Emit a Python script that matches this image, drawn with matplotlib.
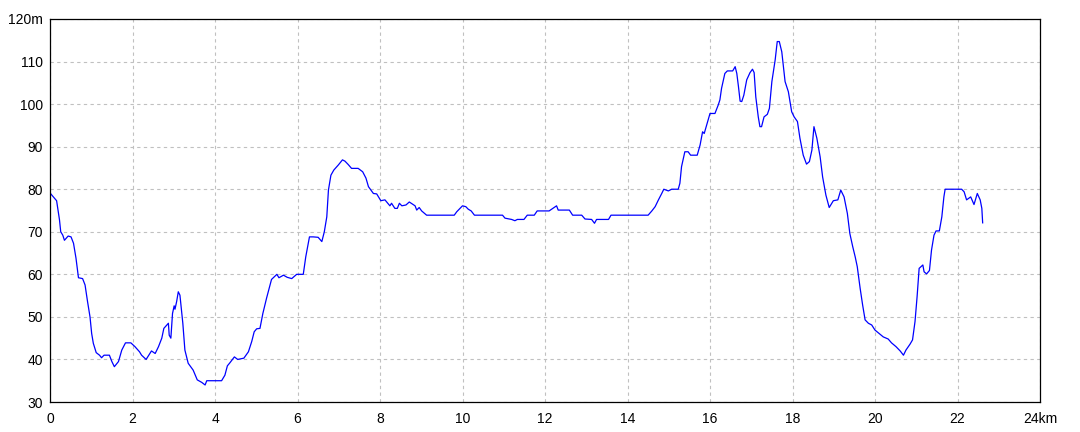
import matplotlib.pyplot as plt

# distance (km) and elevation (m)
km = [0.02, 0.16, 0.23, 0.26, 0.31, 0.35, 0.44, 0.51, 0.57, 0.63, 0.69, 0.79, 0.85, 0.91, 0.97,
      1.01, 1.05, 1.12, 1.2, 1.25, 1.31, 1.44, 1.5, 1.56, 1.66, 1.74, 1.83, 1.96, 2.06, 2.17,
      2.22, 2.33, 2.46, 2.55, 2.63, 2.71, 2.76, 2.87, 2.89, 2.93, 2.97, 3.01, 3.03, 3.07, 3.11,
      3.15, 3.22, 3.27, 3.35, 3.47, 3.57, 3.68, 3.76, 3.8, 4.16, 4.24, 4.3, 4.36, 4.47, 4.55,
      4.7, 4.81, 4.89, 4.95, 5.01, 5.09, 5.16, 5.25, 5.37, 5.5, 5.55, 5.66, 5.75, 5.86, 5.98,
      6.14, 6.2, 6.29, 6.38, 6.5, 6.59, 6.65, 6.71, 6.75, 6.81, 6.88, 6.99, 7.09, 7.15, 7.23,
      7.31, 7.47, 7.58, 7.66, 7.72, 7.84, 7.92, 8.02, 8.12, 8.24, 8.28, 8.36, 8.42, 8.47, 8.53,
      8.63, 8.71, 8.85, 8.89, 8.95, 9.01, 9.13, 9.8, 9.86, 9.92, 10.0, 10.08, 10.14, 10.21,
      10.29, 10.97, 11.03, 11.19, 11.27, 11.33, 11.49, 11.57, 11.74, 11.81, 12.1, 12.16, 12.28,
      12.32, 12.59, 12.67, 12.89, 12.97, 13.13, 13.2, 13.25, 13.54, 13.6, 14.5, 14.59, 14.67,
      14.75, 14.83, 14.88, 14.99, 15.07, 15.23, 15.27, 15.31, 15.39, 15.47, 15.53, 15.69, 15.76,
      15.82, 15.86, 15.92, 16.0, 16.12, 16.2, 16.24, 16.28, 16.36, 16.42, 16.55, 16.61, 16.65,
      16.69, 16.73, 16.77, 16.82, 16.89, 16.97, 17.03, 17.07, 17.11, 17.17, 17.21, 17.25, 17.31,
      17.39, 17.44, 17.5, 17.58, 17.63, 17.68, 17.74, 17.82, 17.9, 17.98, 18.04, 18.12, 18.18,
      18.26, 18.34, 18.41, 18.47, 18.52, 18.59, 18.67, 18.73, 18.81, 18.89, 18.99, 19.1, 19.17,
      19.25, 19.33, 19.39, 19.46, 19.52, 19.57, 19.64, 19.7, 19.76, 19.84, 19.92, 20.0, 20.1,
      20.2, 20.32, 20.4, 20.51, 20.61, 20.69, 20.75, 20.85, 20.91, 20.97, 21.02, 21.07, 21.16,
      21.19, 21.25, 21.32, 21.37, 21.43, 21.48, 21.56, 21.62, 21.67, 21.7, 22.1, 22.16, 22.22,
      22.32, 22.4, 22.48, 22.55, 22.59, 22.61]
elev = [78.9, 77.3, 72.8, 70.0, 69.2, 68.0, 69.0, 68.8, 67.3, 63.8, 59.2, 59.0, 57.5, 53.6, 50.0,
        46.1, 43.8, 41.6, 41.0, 40.4, 41.0, 41.0, 39.5, 38.3, 39.5, 42.2, 43.9, 43.9, 43.0, 41.8,
        41.0, 40.0, 42.0, 41.4, 43.0, 45.0, 47.3, 48.5, 45.7, 45.0, 50.8, 52.6, 51.8, 53.6, 55.9,
        55.1, 48.5, 42.2, 39.1, 37.5, 35.2, 34.6, 34.0, 35.0, 35.0, 36.3, 38.5, 39.2, 40.6, 40.0,
        40.3, 41.8, 44.2, 46.5, 47.2, 47.3, 50.8, 54.4, 58.8, 60.0, 59.2, 59.8, 59.3, 59.0, 60.0,
        60.0, 64.1, 68.8, 68.8, 68.7, 67.7, 70.0, 73.5, 79.8, 83.3, 84.5, 85.7, 86.9, 86.6, 85.8,
        84.9, 84.9, 84.1, 82.6, 80.6, 79.0, 78.9, 77.3, 77.5, 76.1, 76.7, 75.5, 75.5, 76.7, 76.1,
        76.3, 77.0, 76.1, 75.1, 75.7, 74.9, 73.9, 73.9, 74.7, 75.3, 76.1, 75.9, 75.3, 74.9,
        73.9, 73.9, 73.2, 72.9, 72.6, 72.9, 72.9, 73.9, 73.9, 74.9, 74.9, 75.3, 76.1,
        75.1, 75.1, 73.9, 73.9, 73.0, 72.9, 72.0, 72.9, 72.9, 73.9, 73.9, 74.9, 75.9,
        77.5, 79.0, 80.0, 79.6, 80.0, 80.0, 81.4, 85.3, 88.8, 88.8, 88.0, 88.0, 90.4,
        93.5, 93.1, 95.1, 97.8, 97.8, 99.8, 101.0, 103.7, 107.2, 107.8, 107.8, 108.8, 107.2,
        104.1, 100.7, 100.6, 102.1, 105.7, 107.4, 108.2, 107.4, 101.7, 97.0, 94.7, 94.7, 97.0,
        97.6, 99.0, 105.3, 110.4, 114.7, 114.7, 112.3, 105.3, 102.9, 98.2, 97.0, 95.9, 92.0,
        88.0, 85.9, 86.5, 89.2, 94.7, 92.0, 87.6, 82.9, 78.6, 75.7, 77.3, 77.5, 79.8,
        78.2, 74.3, 69.6, 66.5, 64.1, 61.8, 56.7, 52.8, 49.3, 48.5, 48.1, 46.9, 46.1,
        45.3, 44.8, 43.9, 43.0, 42.0, 41.0, 42.2, 43.6, 44.6, 48.9, 54.7, 61.4, 62.2,
        60.6, 60.1, 60.9, 65.7, 69.2, 70.2, 70.2, 73.5, 78.2, 80.0, 80.0, 79.4, 77.5,
        78.2, 76.4, 79.0, 77.5, 75.5, 72.1]

x_ticks = list(range(0, 25, 2))
x_labels = [str(t) for t in x_ticks[:-1]] + ["24km"]
y_ticks = list(range(30, 121, 10))
y_labels = [str(t) for t in y_ticks[:-1]] + ["120m"]

plt.rcParams['font.family'] = ['Liberation Sans', 'DejaVu Sans']

fig = plt.figure(figsize=(10.8, 4.32), dpi=100)
ax = fig.add_axes([50 / 1080, 30 / 432, 990 / 1080, 383 / 432])

ax.plot(km, elev, color='#0000ff', linewidth=0.9)

ax.set_xlim(0, 24)
ax.set_ylim(30, 120)
ax.set_xticks(x_ticks)
ax.set_xticklabels(x_labels)
ax.set_yticks(y_ticks)
ax.set_yticklabels(y_labels)
ax.tick_params(labelsize=10, length=0, colors='black')
ax.tick_params(axis='y', pad=5)
ax.tick_params(axis='x', pad=7)

ax.grid(True, color='#c0c0c0', linestyle=(0, (3, 3)), linewidth=0.8)
for s in ax.spines.values():
    s.set_linewidth(0.9)
    s.set_color('black')

fig.savefig("out.png", dpi=100)
